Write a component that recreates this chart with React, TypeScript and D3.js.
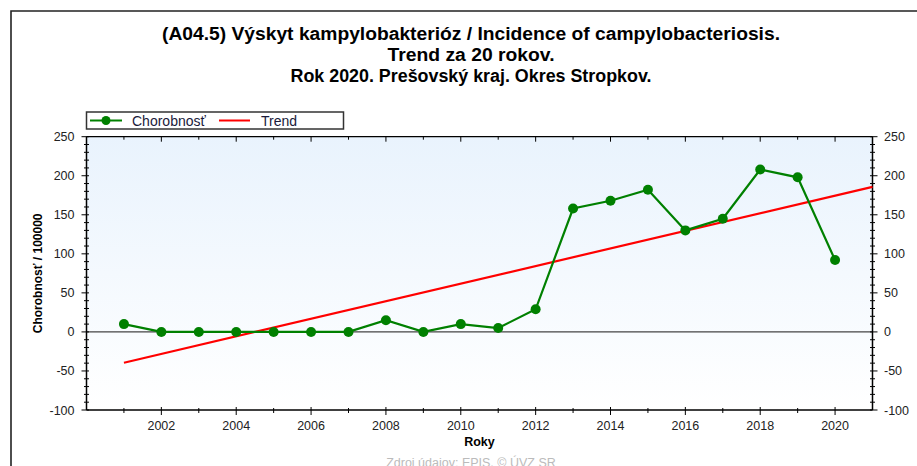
import React from "react";
import * as d3 from "d3";

const years = [2001, 2002, 2003, 2004, 2005, 2006, 2007, 2008, 2009, 2010, 2011, 2012, 2013, 2014, 2015, 2016, 2017, 2018, 2019, 2020];
const incidence = [10, 0, 0, 0, 0, 0, 0, 15, 0, 10, 5, 29, 158, 168, 182, 130, 145, 208, 198, 92];
const yTicks = [-100, -50, 0, 50, 100, 150, 200, 250];
const xTickYears = [2002, 2004, 2006, 2008, 2010, 2012, 2014, 2016, 2018, 2020];
const titleLines = [
  "(A04.5) Výskyt kampylobakterióz / Incidence of campylobacteriosis.",
  "Trend za 20 rokov.",
  "Rok 2020. Prešovský kraj. Okres Stropkov.",
];
const titleWidths = [618, 167, 361];
const legendLabels = ["Chorobnosť", "Trend"];
const yAxisLabel = "Chorobnosť / 100000";
const xAxisLabel = "Roky";
const sourceLabel = "Zdroj údajov: EPIS, © ÚVZ SR";

const W = 917;
const H = 466;
const FONT = "'Liberation Sans', Arial, sans-serif";

export default function App() {
  const x = d3.scaleLinear().domain([2000, 2021]).range([86.5, 872.5]);
  const y = d3.scaleLinear().domain([-100, 250]).range([410, 136.7]);

  // least squares trend
  const mx = d3.mean(years)!;
  const my = d3.mean(incidence)!;
  const sxy = d3.sum(years, (v, i) => (v - mx) * (incidence[i] - my));
  const sxx = d3.sum(years, (v) => (v - mx) * (v - mx));
  const slope = sxy / sxx;
  const icpt = my - slope * mx;
  const trendPts: [number, number][] = [2001, 2021].map((yr) => [yr, icpt + slope * yr]);

  const line = d3
    .line<[number, number]>()
    .x((d) => x(d[0]))
    .y((d) => y(d[1]));
  const dataPts: [number, number][] = years.map((yr, i) => [yr, incidence[i]]);

  const [x0, x1] = x.range();
  const [yb, yt] = y.range();
  const minorY = d3.range(-100, 251, 10);
  const allYears = d3.range(2001, 2021);

  const tickColor = "#000";
  const labelColor = "#222";
  const titleBaselines = [39.5, 61, 82];

  return (
    <svg width={W} height={H} style={{ position: "absolute", left: 0, top: 0, display: "block" }}>
      <defs>
        <linearGradient id="bg" x1="0" y1="0" x2="0" y2="1">
          <stop offset="0%" stopColor="#e9f3fd" />
          <stop offset="100%" stopColor="#ffffff" />
        </linearGradient>
      </defs>
      <rect x={0} y={0} width={W} height={H} fill="#fff" />
      {/* outer frame */}
      <path d={`M11,${H + 5} L11,11 L${W + 5},11`} fill="none" stroke="#222" strokeWidth={1.6} />

      {/* title */}
      {titleLines.map((t, i) => (
        <text
          key={i}
          x={471}
          y={titleBaselines[i]}
          textAnchor="middle"
          fontFamily={FONT}
          fontWeight="bold"
          fontSize={17.5}
          fill="#000"
          textLength={titleWidths[i]}
          lengthAdjust="spacingAndGlyphs"
        >
          {t}
        </text>
      ))}

      {/* plot background */}
      <rect x={x0} y={yt} width={x1 - x0} height={yb - yt} fill="url(#bg)" />

      {/* zero line */}
      <line x1={x0} x2={x1} y1={y(0)} y2={y(0)} stroke="#444" strokeWidth={1.2} />

      {/* axes frame lines */}
      <line x1={x0} x2={x1} y1={yt} y2={yt} stroke="#000" strokeWidth={1.2} />
      <line x1={x0} x2={x1} y1={yb} y2={yb} stroke="#000" strokeWidth={1.5} />
      <line x1={x0} x2={x0} y1={yt} y2={yb} stroke="#000" strokeWidth={1.5} />
      <line x1={x1} x2={x1} y1={yt} y2={yb} stroke="#000" strokeWidth={1.5} />

      {/* y ticks left and right */}
      {minorY.map((v) => {
        const major = v % 50 === 0;
        return (
          <g key={v}>
            <line x1={major ? x0 - 5 : x0 - 2.5} x2={x0 + 2.5} y1={y(v)} y2={y(v)} stroke={tickColor} strokeWidth={1} />
            <line x1={x1 - 2.5} x2={major ? x1 + 5 : x1 + 2.5} y1={y(v)} y2={y(v)} stroke={tickColor} strokeWidth={1} />
          </g>
        );
      })}
      {yTicks.map((v) => (
        <g key={v}>
          <text x={x0 - 12} y={y(v) + 4.5} textAnchor="end" fontFamily={FONT} fontSize={12.5} fill={labelColor}>
            {v}
          </text>
          <text x={x1 + 11.5} y={y(v) + 4.5} textAnchor="start" fontFamily={FONT} fontSize={12.5} fill={labelColor}>
            {v}
          </text>
        </g>
      ))}

      {/* x ticks */}
      {allYears.map((yr) => {
        const major = yr % 2 === 0;
        return (
          <g key={yr}>
            <line x1={x(yr)} x2={x(yr)} y1={major ? yb - 3 : yb - 2} y2={major ? yb + 5 : yb + 3} stroke={tickColor} strokeWidth={1} />
            <line x1={x(yr)} x2={x(yr)} y1={yt} y2={major ? yt + 5 : yt + 3} stroke={tickColor} strokeWidth={1} />
          </g>
        );
      })}
      {xTickYears.map((yr) => (
        <text key={yr} x={x(yr)} y={yb + 20} textAnchor="middle" fontFamily={FONT} fontSize={12.5} fill={labelColor}>
          {yr}
        </text>
      ))}

      {/* trend */}
      <path d={line(trendPts)!} fill="none" stroke="#ff0000" strokeWidth={2.2} />

      {/* data */}
      <path d={line(dataPts)!} fill="none" stroke="#008000" strokeWidth={2.2} />
      {dataPts.map((d, i) => (
        <circle key={i} cx={x(d[0])} cy={y(d[1])} r={5} fill="#008000" />
      ))}

      {/* axis titles */}
      <text
        transform={`translate(42, ${(yt + yb) / 2}) rotate(-90)`}
        textAnchor="middle"
        fontFamily={FONT}
        fontWeight="bold"
        fontSize={12}
        fill="#000"
      >
        {yAxisLabel}
      </text>
      <text x={(x0 + x1) / 2} y={446} textAnchor="middle" fontFamily={FONT} fontWeight="bold" fontSize={12.5} fill="#000">
        {xAxisLabel}
      </text>
      <text x={471} y={467} textAnchor="middle" fontFamily={FONT} fontSize={12.5} fill="#bbb">
        {sourceLabel}
      </text>

      {/* legend */}
      <rect x={86.5} y={112} width={257} height={17} fill="#fff" stroke="#333" strokeWidth={1.5} />
      <line x1={90} x2={122} y1={120.5} y2={120.5} stroke="#008000" strokeWidth={2} />
      <circle cx={106} cy={120.5} r={4.5} fill="#008000" />
      <text x={132} y={125.5} fontFamily={FONT} fontSize={14} fill="#1a1a3a">
        {legendLabels[0]}
      </text>
      <line x1={219} x2={250} y1={120.5} y2={120.5} stroke="#ff0000" strokeWidth={2} />
      <text x={261} y={125.5} fontFamily={FONT} fontSize={14} fill="#1a1a3a">
        {legendLabels[1]}
      </text>
    </svg>
  );
}
